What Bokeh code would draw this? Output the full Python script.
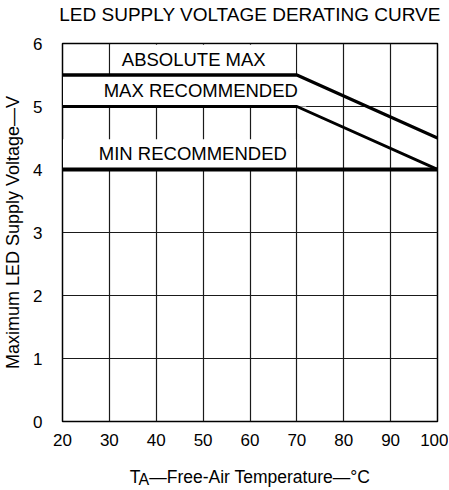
from bokeh.plotting import figure
from bokeh.models import Range1d, FixedTicker, Label
from bokeh.embed import file_html
from bokeh.resources import INLINE

# ---- data ----
temps = [20, 70, 100]
abs_max = [5.5, 5.5, 4.5]
max_rec = [5.0, 5.0, 4.0]
min_rec = [4.0, 4.0, 4.0]
x_ticks = [20, 30, 40, 50, 60, 70, 80, 90, 100]
y_ticks = [0, 1, 2, 3, 4, 5, 6]
title_text = "LED SUPPLY VOLTAGE DERATING CURVE"
y_label = "Maximum LED Supply Voltage\u2014V"
x_label_main = "T\u2002\u2014Free-Air Temperature\u2014\u00b0C"
x_label_sub = "A"
curve_names = ["ABSOLUTE MAX", "MAX RECOMMENDED", "MIN RECOMMENDED"]

FONT = "Liberation Sans"

p = figure(width=448, height=489, output_backend="svg", toolbar_location=None,
           x_range=Range1d(20, 100), y_range=Range1d(0, 6))
p.title = None
p.min_border = 0
p.min_border_left = 61
p.min_border_right = 11
p.min_border_top = 43
p.min_border_bottom = 67
p.outline_line_color = "black"
p.outline_line_width = 1.5
p.background_fill_color = "white"
p.border_fill_color = "white"

for ax in (p.xaxis[0], p.yaxis[0]):
    ax.axis_line_color = None
    ax.major_tick_line_color = None
    ax.minor_tick_line_color = None
    ax.major_label_text_font = FONT
    ax.major_label_text_font_size = "17px"
    ax.major_label_text_color = "black"
    ax.axis_label_text_font = FONT
    ax.axis_label_text_font_style = "normal"
    ax.axis_label_text_color = "black"

p.xaxis.ticker = FixedTicker(ticks=x_ticks)
p.yaxis.ticker = FixedTicker(ticks=y_ticks)
p.xaxis.major_label_standoff = 6
p.yaxis.major_label_standoff = 14

p.yaxis.axis_label = y_label
p.yaxis.axis_label_text_font_size = "18px"
p.yaxis.axis_label_standoff = 7

p.xaxis.axis_label = x_label_main
p.xaxis.axis_label_text_font_size = "17.5px"
p.xaxis.axis_label_standoff = 18

p.xgrid.ticker = FixedTicker(ticks=x_ticks)
p.ygrid.ticker = FixedTicker(ticks=y_ticks)
for g in (p.xgrid[0], p.ygrid[0]):
    g.grid_line_color = "#1a1a1a"
    g.grid_line_width = 1.2

# white label boxes behind the curve names
p.quad(left=[30.25, 20.1, 20.1], right=[69.75, 72.0, 69.75],
       bottom=[5.5, 5.0, 4.0], top=[5.98, 5.5, 4.48],
       fill_color="white", line_color=None)

# curves
p.line(temps, abs_max, line_color="black", line_width=3.3)
p.line(temps, max_rec, line_color="black", line_width=3.0)
p.line(temps, min_rec, line_color="black", line_width=4.0)

# curve names
name_x = [48.0, 49.5, 47.8]
name_y = [5.652, 5.161, 4.164]
for n, x, y in zip(curve_names, name_x, name_y):
    p.add_layout(Label(x=x, y=y, y_offset=6, text=n, text_align="center",
                       text_baseline="alphabetic", text_font=FONT,
                       text_font_size="18.5px", text_color="black"))

# title (kept in the above panel so that it is not clipped by the frame)
p.add_layout(Label(x=60, y=6, y_offset=29, text=title_text, text_align="center",
                   text_baseline="alphabetic", text_font=FONT,
                   text_font_size="19px", text_color="black"), "above")

# subscript "A" of T_A (side panel placement avoids frame clipping)
p.add_layout(Label(x=36.2, y=0, y_offset=-58, text=x_label_sub, text_align="left",
                   text_baseline="alphabetic", text_font=FONT,
                   text_font_size="16px", text_color="black"), "right")

open("out.html", "w").write(file_html(p, INLINE))
